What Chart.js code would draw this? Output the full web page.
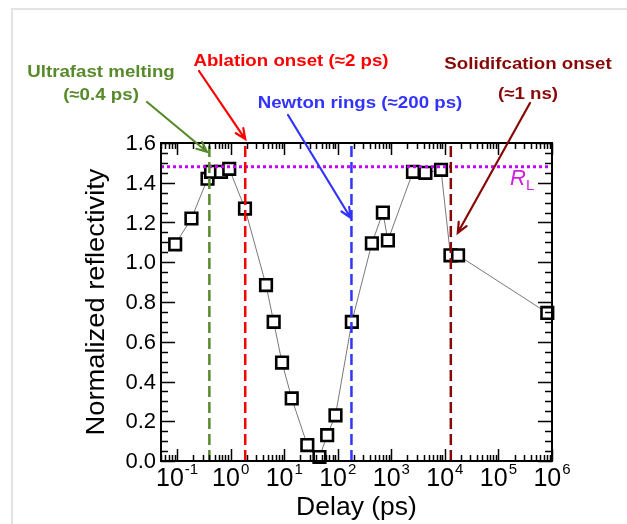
<!DOCTYPE html>
<html>
<head>
<meta charset="utf-8">
<script src="https://cdn.jsdelivr.net/npm/chart.js@4.4.1/dist/chart.umd.min.js"></script>
<style>
  html, body { margin: 0; padding: 0; background: #fff; overflow: hidden; }
  canvas { display: block; }
</style>
</head>
<body>
<canvas id="myChart" width="627" height="524"></canvas>
<script>
// delay (ps) and normalized reflectivity
let delays = [0.092, 0.185, 0.37, 0.43, 0.66, 0.94, 1.85, 4.57, 6.35, 9.1, 13.8, 27, 45.5, 63.4, 90.6, 183, 433, 695, 863, 2535, 4325, 8470, 12700, 17600, 817000];
let reflectivity = [1.09, 1.22, 1.42, 1.455, 1.455, 1.47, 1.27, 0.885, 0.70, 0.495, 0.315, 0.08, 0.02, 0.13, 0.23, 0.70, 1.095, 1.25, 1.11, 1.455, 1.45, 1.465, 1.035, 1.035, 0.745];

let eventNames = ['Ultrafast melting', 'Ablation onset (\u22482 ps)', 'Newton rings (\u2248200 ps)', 'Solidifcation onset'];
let eventSub = ['(\u22480.4 ps)', '', '', '(\u22481 ns)'];
let eventDelays = [0.4, 1.87, 180, 12900];
let eventColors = ['#578a2a', '#ff0000', '#3333ff', '#880808'];
let RL = 1.48;

let xPowers = [-1, 0, 1, 2, 3, 4, 5, 6];
let yTicks = [0.0, 0.2, 0.4, 0.6, 0.8, 1.0, 1.2, 1.4, 1.6];

const FONT = 'Liberation Sans, Arial, sans-serif';

function stretchText(c, txt, x, y, font, color, align, sx) {
  c.save();
  c.font = font;
  c.fillStyle = color;
  c.textAlign = align;
  c.textBaseline = 'alphabetic';
  c.translate(x, y);
  c.scale(sx, 1);
  c.fillText(txt, 0, 0);
  c.restore();
}

function arrow(c, x1, y1, x2, y2, color) {
  let a = Math.atan2(y2 - y1, x2 - x1);
  let L = 11, s = 0.42;
  c.save();
  c.strokeStyle = color;
  c.lineWidth = 2.2;
  c.lineCap = 'round';
  c.beginPath();
  c.moveTo(x1, y1); c.lineTo(x2, y2);
  c.moveTo(x2 - L * Math.cos(a - s), y2 - L * Math.sin(a - s));
  c.lineTo(x2, y2);
  c.lineTo(x2 - L * Math.cos(a + s), y2 - L * Math.sin(a + s));
  c.stroke();
  c.restore();
}

// light gray page edge (top and left only)
const pageEdge = {
  id: 'pageEdge',
  beforeDraw(chart) {
    const c = chart.ctx;
    c.save();
    c.strokeStyle = '#e3e3e3';
    c.lineWidth = 2;
    c.beginPath();
    c.moveTo(12, chart.height); c.lineTo(12, 9); c.lineTo(chart.width, 9);
    c.stroke();
    c.restore();
  }
};

// frame, inward ticks, labels, annotations
const decor = {
  id: 'decor',
  afterDatasetsDraw(chart) {
    const c = chart.ctx;
    const a = chart.chartArea;
    const xs = chart.scales.x, ys = chart.scales.y;

    c.save();
    c.strokeStyle = '#000';
    c.lineWidth = 1.5;
    c.beginPath();
    // x ticks (log, decades long)
    for (let n = -2; n <= 6; n++) {
      for (let k = 1; k <= 9; k++) {
        let v = k * Math.pow(10, n);
        if (v < 0.05 || v > 1e6) continue;
        let px = Math.round(xs.getPixelForValue(v)) + 0.5;
        let len = k === 1 ? 12 : 6;
        c.moveTo(px, a.bottom); c.lineTo(px, a.bottom - len);
        c.moveTo(px, a.top); c.lineTo(px, a.top + len);
      }
    }
    // y ticks every 0.05, long every 0.2
    for (let i = 0; i <= 32; i++) {
      let v = i * 0.05;
      let py = Math.round(ys.getPixelForValue(v)) + 0.5;
      let len = i % 4 === 0 ? 14 : 7;
      c.moveTo(a.left, py); c.lineTo(a.left + len, py);
      c.moveTo(a.right, py); c.lineTo(a.right - len, py);
    }
    c.stroke();
    c.lineWidth = 2;
    c.strokeRect(a.left, a.top, a.right - a.left, a.bottom - a.top);
    c.restore();

    // y tick labels
    yTicks.forEach(v => {
      c.save();
      c.font = '22px ' + FONT;
      c.fillStyle = '#000';
      c.textAlign = 'right';
      c.textBaseline = 'middle';
      c.fillText(v.toFixed(1), a.left - 5, ys.getPixelForValue(v) + 1);
      c.restore();
    });

    // x tick labels 10^n
    xPowers.forEach(p => {
      let px = xs.getPixelForValue(Math.pow(10, p));
      c.save();
      c.font = '25px ' + FONT;
      let w1 = c.measureText('10').width;
      c.font = '15px ' + FONT;
      let exp = String(p);
      let w2 = c.measureText(exp).width;
      let x0 = px - (w1 + w2 + 1) / 2;
      c.fillStyle = '#000';
      c.textBaseline = 'alphabetic';
      c.font = '25px ' + FONT;
      c.fillText('10', x0, 486);
      c.font = '15px ' + FONT;
      c.fillText(exp, x0 + w1 + 1, 474);
      c.restore();
    });

    // axis titles
    stretchText(c, 'Delay (ps)', (a.left + a.right) / 2, 515, '25px ' + FONT, '#000', 'center', 1.06);
    c.save();
    c.translate(104, (a.top + a.bottom) / 2);
    c.rotate(-Math.PI / 2);
    stretchText(c, 'Normalized reflectivity', 0, 0, '26px ' + FONT, '#000', 'center', 1.05);
    c.restore();

    // R_L label
    let ry = ys.getPixelForValue(RL);
    stretchText(c, 'R', a.right - 42, ry + 18, 'italic 22px ' + FONT, '#d21fe0', 'left', 1);
    stretchText(c, 'L', a.right - 26, ry + 23, '15px ' + FONT, '#d21fe0', 'left', 1);

    // annotations
    const bold = 'bold 17px ' + FONT;
    stretchText(c, eventNames[0], 101, 77, bold, eventColors[0], 'center', 1.1);
    stretchText(c, eventSub[0], 101, 100, bold, eventColors[0], 'center', 1.1);
    stretchText(c, eventNames[1], 291, 66, bold, eventColors[1], 'center', 1.1);
    stretchText(c, eventNames[2], 360, 108, bold, eventColors[2], 'center', 1.1);
    stretchText(c, eventNames[3], 528, 69, bold, eventColors[3], 'center', 1.1);
    stretchText(c, eventSub[3], 528, 99, bold, eventColors[3], 'center', 1.1);

    arrow(c, 147, 102, xs.getPixelForValue(0.36), ys.getPixelForValue(1.556), eventColors[0]);
    arrow(c, 199, 71, xs.getPixelForValue(1.87), ys.getPixelForValue(1.62), eventColors[1]);
    arrow(c, 288, 115, xs.getPixelForValue(173), ys.getPixelForValue(1.224), eventColors[2]);
    arrow(c, 530, 103, xs.getPixelForValue(17400), ys.getPixelForValue(1.148), eventColors[3]);
  }
};

let datasets = [{
  label: 'Reflectivity',
  data: delays.map((d, i) => ({ x: d, y: reflectivity[i] })),
  showLine: true,
  borderColor: '#555',
  borderWidth: 0.8,
  pointStyle: 'rect',
  pointRadius: 8.2,
  pointBorderWidth: 2.6,
  pointBorderColor: '#000',
  pointBackgroundColor: '#fff',
  clip: false,
  order: 2
}];

eventDelays.forEach((d, i) => {
  datasets.push({
    label: eventNames[i],
    data: [{ x: d, y: 0 }, { x: d, y: 1.6 }],
    showLine: true,
    borderColor: eventColors[i],
    borderWidth: 2.5,
    borderDash: [11, 5],
    pointRadius: 0,
    order: 1
  });
});

datasets.push({
  label: 'R_L',
  data: [{ x: 0.05, y: RL }, { x: 1e6, y: RL }],
  showLine: true,
  borderColor: '#c400ff',
  borderWidth: 3,
  borderDash: [3, 3],
  pointRadius: 0,
  order: 1
});

var ctx = document.getElementById('myChart').getContext('2d');
var myChart = new Chart(ctx, {
  type: 'scatter',
  data: { datasets: datasets },
  options: {
    responsive: false,
    animation: false,
    devicePixelRatio: 1,
    layout: { padding: { left: 161, right: 75, top: 143, bottom: 63 } },
    plugins: {
      legend: { display: false },
      tooltip: { enabled: false }
    },
    scales: {
      x: { type: 'logarithmic', min: 0.05, max: 1e6, display: false },
      y: { type: 'linear', min: 0, max: 1.6, display: false }
    }
  },
  plugins: [pageEdge, decor]
});
</script>
</body>
</html>
